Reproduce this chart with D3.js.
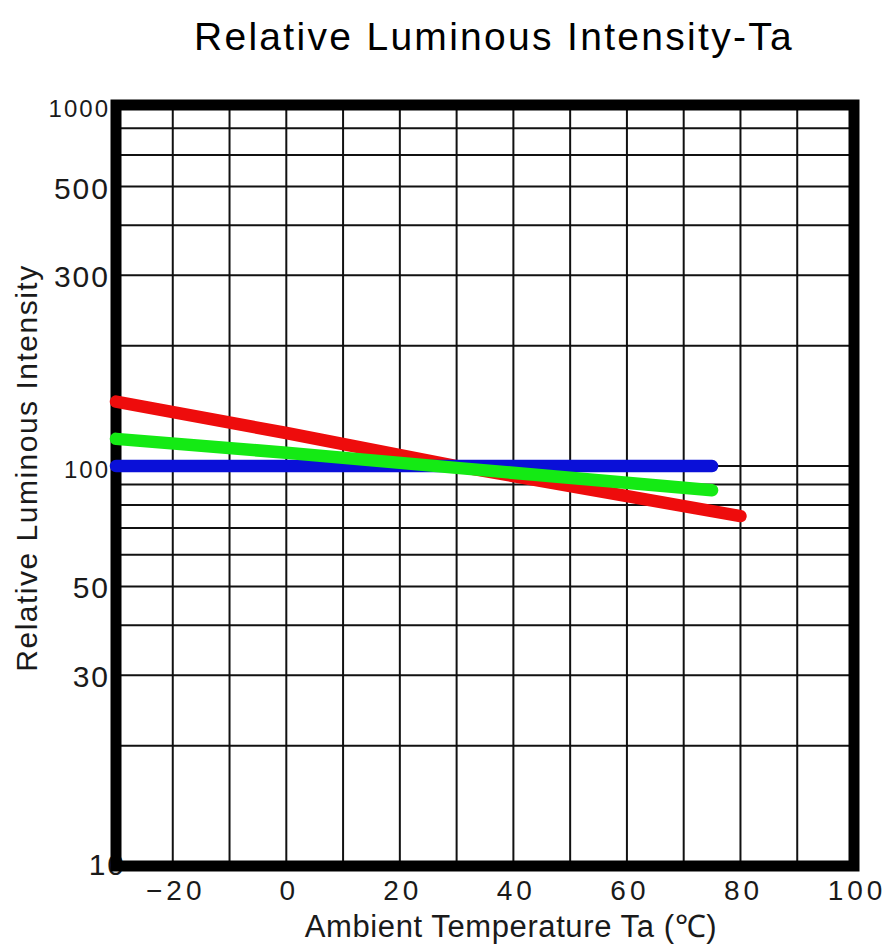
<!DOCTYPE html>
<html>
<head>
<meta charset="utf-8">
<script src="https://cdn.jsdelivr.net/npm/d3@7"></script>
<style>
body { margin: 0; background: #fff; }
text { font-family: "Liberation Sans", Arial, sans-serif; fill: #1a1a1a; }
</style>
</head>
<body>
<svg width="886" height="949"></svg>
<script>
// axis ticks / grid
const xTickValues = [-20, 0, 20, 40, 60, 80, 100];
const xTickLabels = ["\u221220", "0", "20", "40", "60", "80", "100"];
const xGridValues = [-20, -10, 0, 10, 20, 30, 40, 50, 60, 70, 80, 90];
const yTickValues = [10, 30, 50, 100, 300, 500, 800];
const yTickLabels = ["10", "30", "50", "100", "300", "500", "1000"];
const yGridValues = [20, 30, 40, 50, 60, 70, 80, 90, 100, 200, 300, 400, 500, 600, 700];

// series (Ta in degC, relative intensity in %)
const redTemp = [-30, 0, 30, 80];
const redValue = [145, 121, 100, 75];
const blueTemp = [-30, 75];
const blueValue = [100, 100];
const greenTemp = [-30, 0, 30, 75];
const greenValue = [117, 108, 99, 87];

const svg = d3.select("svg");
const plotLeft = 116, plotRight = 854, plotTop = 105, plotBottom = 866;

const x = d3.scaleLinear().domain([-30, 100]).range([plotLeft, plotRight]);
const y = d3.scaleLog().domain([10, 800]).range([plotBottom, plotTop]);

// grid
svg.append("g").selectAll("line")
  .data(xGridValues)
  .enter().append("line")
  .attr("x1", d => x(d)).attr("x2", d => x(d))
  .attr("y1", plotTop).attr("y2", plotBottom)
  .attr("stroke", "#111").attr("stroke-width", 2);

svg.append("g").selectAll("line")
  .data(yGridValues)
  .enter().append("line")
  .attr("x1", plotLeft).attr("x2", plotRight)
  .attr("y1", d => y(d)).attr("y2", d => y(d))
  .attr("stroke", "#111").attr("stroke-width", 2);

// tick labels (drawn before frame so the frame hides the "0" of the bottom one)
svg.append("g").selectAll("text")
  .data(yTickValues)
  .enter().append("text")
  .attr("x", (d, i) => i == 0 ? 126 : 110)
  .attr("y", (d, i) => y(d) + (i == 0 ? 9 : 12))
  .attr("text-anchor", "end")
  .style("font-size", (d, i) => (yTickLabels[i] == "1000" || yTickLabels[i] == "100") ? "24px" : "30px")
  .style("letter-spacing", "2px")
  .text((d, i) => yTickLabels[i]);

svg.append("g").selectAll("text")
  .data(xTickValues)
  .enter().append("text")
  .attr("x", d => x(d) + 3)
  .attr("y", 900)
  .attr("text-anchor", "middle")
  .style("font-size", "28px")
  .style("letter-spacing", "4px")
  .text((d, i) => xTickLabels[i]);

// frame
svg.append("rect")
  .attr("x", plotLeft).attr("y", plotTop)
  .attr("width", plotRight - plotLeft).attr("height", plotBottom - plotTop)
  .attr("fill", "none")
  .attr("stroke", "#000")
  .attr("stroke-width", 11);

// curves
const line = d3.line()
  .x(d => x(d[0]))
  .y(d => y(d[1]));

const series = [
  { t: redTemp, v: redValue, color: "#ee0c0c" },
  { t: blueTemp, v: blueValue, color: "#0a10d8" },
  { t: greenTemp, v: greenValue, color: "#14ea14" }
];

series.forEach(s => {
  svg.append("path")
    .datum(s.t.map((t, i) => [t, s.v[i]]))
    .attr("d", line)
    .attr("fill", "none")
    .attr("stroke", s.color)
    .attr("stroke-width", 12.5)
    .attr("stroke-linecap", "round")
    .attr("stroke-linejoin", "round");
});

// titles
svg.append("text")
  .attr("x", 494).attr("y", 50)
  .attr("text-anchor", "middle")
  .style("font-size", "39px")
  .style("letter-spacing", "2.3px")
  .style("fill", "#000")
  .text("Relative Luminous Intensity-Ta");

svg.append("text")
  .attr("x", 511).attr("y", 937)
  .attr("text-anchor", "middle")
  .style("font-size", "31px")
  .style("letter-spacing", "0.6px")
  .text("Ambient Temperature Ta (\u2103)");

svg.append("text")
  .attr("transform", "translate(37,468) rotate(-90)")
  .attr("text-anchor", "middle")
  .style("font-size", "30px")
  .style("letter-spacing", "1.5px")
  .text("Relative Luminous Intensity");
</script>
</body>
</html>
